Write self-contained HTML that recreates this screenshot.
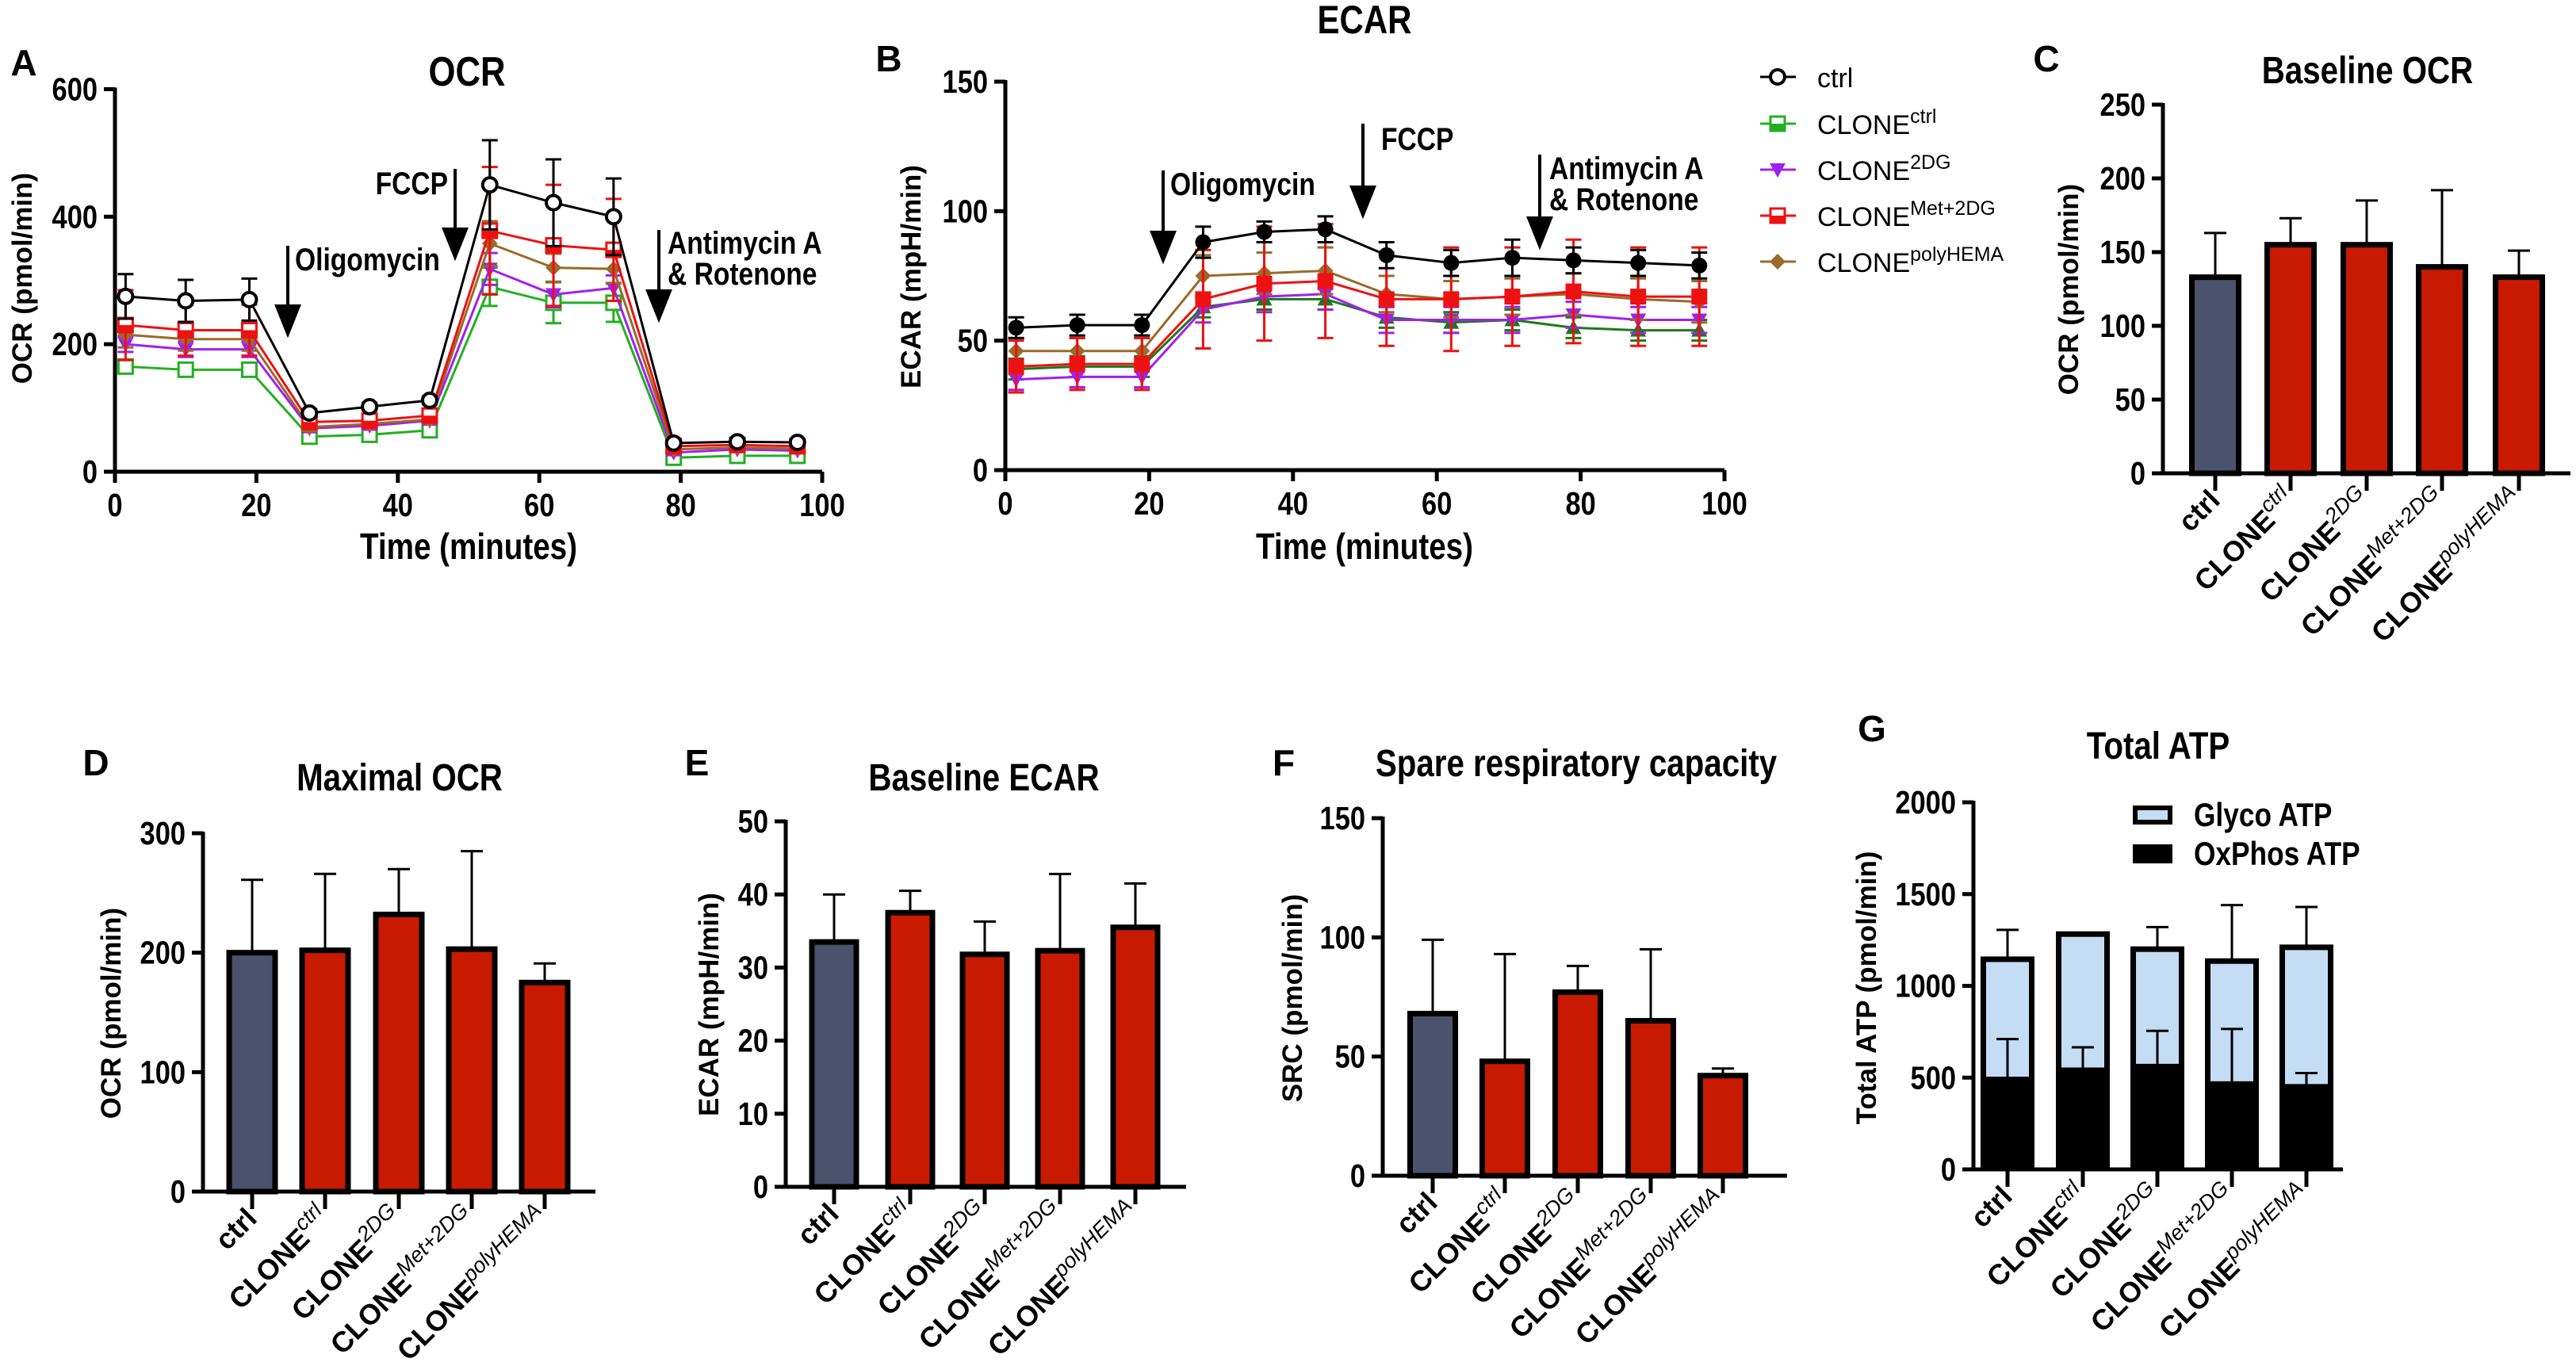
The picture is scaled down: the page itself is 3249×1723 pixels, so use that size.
<!DOCTYPE html>
<html><head><meta charset="utf-8">
<style>
html,body{margin:0;padding:0;background:#fff;}
svg{display:block;font-family:"Liberation Sans",Arial,sans-serif;}
</style></head>
<body>
<svg id="fig" width="3249" height="1723" viewBox="0 0 3249 1723" xmlns="http://www.w3.org/2000/svg"></svg>
<script>
// ---------- Panel A (OCR time course) ----------
const timePts = [1.5,10,19,27.5,36,44.5,53,62,70.5,79,88,96.5];
const ocrCtrl = [275,268,270,92,102,112,450,422,400,45,47,46];
const ocrCtrlErr = [35,33,33,6,6,6,70,68,60,5,5,5];
const ocrCloneCtrl = [165,160,160,55,58,65,290,265,265,22,25,25];
const ocrCloneCtrlErr = [10,10,10,6,6,6,30,32,30,4,4,4];
const ocr2DG = [200,192,192,68,72,80,318,278,288,30,35,33];
const ocr2DGErr = [12,12,12,6,6,6,25,20,20,4,4,4];
const ocrMet = [230,222,222,78,80,88,378,355,348,40,42,40];
const ocrMetErr = [55,40,40,8,8,8,100,95,80,5,5,5];
const ocrPoly = [215,208,208,70,75,82,358,320,318,35,38,36];
const ocrPolyErr = [20,18,18,6,6,6,35,22,22,4,4,4];
// ---------- Panel B (ECAR time course) ----------
const ecarCtrl = [55,56,56,88,92,93,83,80,82,81,80,79];
const ecarCtrlErr = [4,4,4,6,4,5,5,5,7,5,5,5];
const ecarCloneCtrl = [39,40,40,63,66,66,59,57,58,55,54,54];
const ecarCloneCtrlErr = [4,4,4,4,4,4,4,4,4,4,4,4];
const ecar2DG = [35,36,36,62,67,68,58,58,58,60,58,58];
const ecar2DGErr = [4,4,4,5,6,6,5,5,5,5,5,5];
const ecarMet = [40,41,41,66,72,73,66,66,67,69,67,67];
const ecarMetErr = [10,10,10,19,22,22,18,20,19,20,19,19];
const ecarPoly = [46,46,46,75,76,77,68,66,67,68,66,65];
const ecarPolyErr = [5,5,5,8,8,9,7,7,7,8,8,8];
// ---------- Bar panels ----------
const categories = ["ctrl","ctrl","2DG","Met+2DG","polyHEMA"];
const baseOCR = [133,155,155,140,133];
const baseOCRErr = [30,18,30,52,18];
const maxOCR = [200,202,232,203,175];
const maxOCRErr = [61,64,38,82,16];
const baseECAR = [33.5,37.5,31.8,32.3,35.5];
const baseECARErr = [6.5,3,4.5,10.5,6];
const srcVals = [68,48,77,65,42];
const srcErr = [31,45,11,30,3];
const oxphosATP = [490,540,560,465,450];
const oxphosErr = [220,125,195,300,75];
const totalATP = [1145,1282,1200,1135,1210];
const totalErr = [160,5,120,305,220];
const ticksA = [0,200,400,600];
const ticksB = [0,50,100,150];
const ticksX = [0,20,40,60,80,100];
const ticksC = [0,50,100,150,200,250];
const ticksD = [0,100,200,300];
const ticksE = [0,10,20,30,40,50];
const ticksF = [0,50,100,150];
const ticksG = [0,500,1000,1500,2000];

const NS = "http://www.w3.org/2000/svg";
const svg = document.getElementById("fig");
function mk(tag, attrs, parent){
  const e = document.createElementNS(NS, tag);
  for (const k in attrs) e.setAttribute(k, attrs[k]);
  (parent||svg).appendChild(e);
  return e;
}
function txt(x,y,s,size,opts,parent){
  opts = opts||{};
  const e = mk("text",{x:x,y:y,"font-size":size,"font-weight":opts.w||"bold","text-anchor":opts.a||"middle",fill:"#000"},parent);
  if(opts.n){ e.setAttribute("x",0); e.setAttribute("y",0); e.setAttribute("transform",`translate(${x},${y}) scale(0.84,1)`); }
  if(opts.tr) e.setAttribute("transform",opts.tr);
  e.textContent = s;
  return e;
}
function linY(v,vmax,y0,ytop){ return y0 - v/vmax*(y0-ytop); }

function yAxis(g, ax, y0, ytop, vmax, ticks, xEnd){
  const a = mk("line",{x1:ax,y1:y0,x2:ax,y2:ytop-2,stroke:"#000","stroke-width":5},g);
  
  
  const b = mk("line",{x1:ax-2,y1:y0,x2:xEnd,y2:y0,stroke:"#000","stroke-width":5},g);
  
  
  ticks.forEach(t=>{
    const y = linY(t,vmax,y0,ytop);
    const tk = mk("line",{x1:ax-14,y1:y,x2:ax,y2:y,stroke:"#000","stroke-width":5},g);
    
    
    const l = txt(ax-22,y+14,String(t),41,{a:"end",n:1},g);
    
    
  });
}

function marker(g, shape, x, y, color){
  let m;
  if(shape==="circleOpen") m = mk("circle",{cx:x,cy:y,r:9,fill:"#fff",stroke:color,"stroke-width":4},g);
  else if(shape==="circleFill") m = mk("circle",{cx:x,cy:y,r:10,fill:color},g);
  else if(shape==="squareOpen") m = mk("rect",{x:x-9,y:y-9,width:18,height:18,fill:"#fff",stroke:color,"stroke-width":3},g);
  else if(shape==="squareFill") m = mk("rect",{x:x-10,y:y-10,width:20,height:20,fill:color},g);
  else if(shape==="squareHalf"){ m = mk("g",{},g); mk("rect",{x:x-9,y:y-9,width:18,height:18,fill:"#fff",stroke:color,"stroke-width":3},m); mk("rect",{x:x-9,y:y,width:18,height:9,fill:color},m); }
  else if(shape==="triDown") m = mk("polygon",{points:`${x-10},${y-8} ${x+10},${y-8} ${x},${y+10}`,fill:color},g);
  else if(shape==="triUp") m = mk("polygon",{points:`${x-10},${y+8} ${x+10},${y+8} ${x},${y-10}`,fill:color},g);
  else if(shape==="diamond") m = mk("polygon",{points:`${x},${y-10} ${x+10},${y} ${x},${y+10} ${x-10},${y}`,fill:color},g);
  
  
}
function series(g, xs, vals, errs, color, shape, P){
  const sx = t => P.x0 + t/100*(P.x1-P.x0);
  const sy = v => linY(v,P.vmax,P.y0,P.ytop);
  vals.forEach((v,i)=>{
    const x = sx(xs[i]), y1 = sy(v+errs[i]), y2 = sy(v-errs[i]);
    const e = mk("path",{d:`M${x},${y1}V${y2}M${x-10},${y1}H${x+10}M${x-10},${y2}H${x+10}`,stroke:color,"stroke-width":3,fill:"none"},g);
    
    
  });
  const pl = mk("polyline",{points:vals.map((v,i)=>sx(xs[i])+","+sy(v)).join(" "),fill:"none",stroke:color,"stroke-width":3},g);
  
  
  vals.forEach((v,i)=>marker(g,shape,sx(xs[i]),sy(v),color));
}
function arrow(g,x,yTop,yTip){
  const a = mk("path",{d:`M${x},${yTop}V${yTip-30}M${x-14},${yTip-35}H${x+14}L${x},${yTip}Z`,stroke:"#000","stroke-width":4,fill:"#000"},g);
  
  
}
function xTicks(g,P){
  ticksX.forEach(t=>{
    const x = P.x0 + t/100*(P.x1-P.x0);
    const tk = mk("line",{x1:x,y1:P.y0,x2:x,y2:P.y0+14,stroke:"#000","stroke-width":5},g);
    
    
    const l = txt(x,P.y0+56,String(t),41,{n:1},g);
    
    
  });
}

// Panel A
const gA = mk("g",{});


const PA = {x0:145,x1:1037,y0:595,ytop:112.5,vmax:600};
yAxis(gA,145,595,112.5,600,ticksA,1037);
xTicks(gA,PA);
series(gA,timePts,ocrCloneCtrl,ocrCloneCtrlErr,"#22b022","squareOpen",PA);
series(gA,timePts,ocr2DG,ocr2DGErr,"#a020f0","triDown",PA);
series(gA,timePts,ocrPoly,ocrPolyErr,"#9a6a2a","diamond",PA);
series(gA,timePts,ocrMet,ocrMetErr,"#ee1111","squareHalf",PA);
series(gA,timePts,ocrCtrl,ocrCtrlErr,"#000","circleOpen",PA);
arrow(gA,363,310,421);
arrow(gA,574,213,324);
arrow(gA,831,290,402);
let t;
t = txt(372,341,"Oligomycin",40,{a:"start",n:1},gA);  
t = txt(565,245,"FCCP",40,{a:"end",n:1},gA);  
t = txt(842,320,"Antimycin A",40,{a:"start",n:1},gA);  
t = txt(842,359,"& Rotenone",40,{a:"start",n:1},gA);  
t = txt(589,108,"OCR",52,{n:1},gA);  
t = txt(591,705,"Time (minutes)",46,{n:1},gA);  
t = txt(0,0,"OCR (pmol/min)",35,{tr:"translate(40,351) rotate(-90)"},gA);  
t = txt(30,95,"A",46,{},gA);  

// Panel B
const gB = mk("g",{});


const PB = {x0:1268,x1:2175,y0:593,ytop:103,vmax:150};
yAxis(gB,1268,593,103,150,ticksB,2175);
xTicks(gB,PB);
series(gB,timePts,ecarCloneCtrl,ecarCloneCtrlErr,"#1a7a1a","triUp",PB);
series(gB,timePts,ecar2DG,ecar2DGErr,"#a020f0","triDown",PB);
series(gB,timePts,ecarPoly,ecarPolyErr,"#9a6a2a","diamond",PB);
series(gB,timePts,ecarMet,ecarMetErr,"#ee1111","squareFill",PB);
series(gB,timePts,ecarCtrl,ecarCtrlErr,"#000","circleFill",PB);
arrow(gB,1467,215,328);
arrow(gB,1719,156,271);
arrow(gB,1942,195,310);
t = txt(1476,246,"Oligomycin",40,{a:"start",n:1},gB);  
t = txt(1742,189,"FCCP",40,{a:"start",n:1},gB);  
t = txt(1954,226,"Antimycin A",40,{a:"start",n:1},gB);  
t = txt(1954,265,"& Rotenone",40,{a:"start",n:1},gB);  
t = txt(1721,42,"ECAR",50,{n:1},gB);  
t = txt(1721,705,"Time (minutes)",46,{n:1},gB);  
t = txt(0,0,"ECAR (mpH/min)",35,{tr:"translate(1161,349) rotate(-90)"},gB);  
t = txt(1121,90,"B",46,{},gB);  

// Legend (A/B)
const legNames = ["ctrl","CLONE","CLONE","CLONE","CLONE"];
const legSup = ["","ctrl","2DG","Met+2DG","polyHEMA"];
const legCol = ["#000","#22b022","#a020f0","#ee1111","#9a6a2a"];
const legShape = ["circleOpen","squareHalf","triDown","squareHalf","diamond"];
const legY = [97,156,214,272,330];
const gL = mk("g",{});


legNames.forEach((n,i)=>{
  const y = legY[i];
  const ent = mk("g",{},gL);
  
  
  mk("line",{x1:2220,y1:y,x2:2265,y2:y,stroke:legCol[i],"stroke-width":3},ent);
  marker(ent,legShape[i],2242,y,legCol[i]);
  const tx = mk("text",{x:0,y:0,"font-size":34,fill:"#000",transform:`translate(2292,${y+13}) scale(1.0,1)`},ent);
  
  
  tx.appendChild(document.createTextNode(n));
  if(legSup[i]){
    const sp = mk("tspan",{"font-size":25,dy:-14},tx);
    sp.textContent = legSup[i];
  }
});

// ---------- Bar panels ----------
function catLabel(g,x,y,i){
  const tx = mk("text",{x:0,y:0,"font-size":36,"font-weight":"bold","text-anchor":"end",fill:"#000",transform:`translate(${x+8},${y+36}) rotate(-45)`},g);
  
  
  if(i===0){ tx.textContent = "ctrl"; return; }
  tx.appendChild(document.createTextNode("CLONE"));
  const sp = mk("tspan",{"font-size":27,"font-weight":"normal","font-style":"italic",dy:-15},tx);
  sp.textContent = categories[i];
}
function barPanel(name,P,vals,errs,ticks){
  const g = mk("g",{});
  
  
  yAxis(g,P.ax,P.y0,P.ytop,P.vmax,ticks,P.xEnd);
  vals.forEach((v,i)=>{
    const cx = P.cx[i], y = linY(v,P.vmax,P.y0,P.ytop), ye = linY(v+errs[i],P.vmax,P.y0,P.ytop);
    const e = mk("path",{d:`M${cx},${y}V${ye}M${cx-14},${ye}H${cx+14}`,stroke:"#000","stroke-width":3,fill:"none"},g);
    
    
    const r = mk("rect",{x:cx-P.bw/2,y:y,width:P.bw,height:P.y0-y,fill:i===0?"#4a526c":"#c81a00",stroke:"#000","stroke-width":7},g);
    
    
    const tk = mk("line",{x1:cx,y1:P.y0,x2:cx,y2:P.y0+22,stroke:"#000","stroke-width":5},g);
    
    
    catLabel(g,cx,P.y0,i);
  });
  return g;
}
const gC = barPanel("panel-c-baseline-ocr",{ax:2728,xEnd:3242,y0:597,ytop:132,vmax:250,cx:[2794,2889,2985,3080,3177],bw:59},baseOCR,baseOCRErr,ticksC);
t = txt(2986,105,"Baseline OCR",48,{n:1},gC);  
t = txt(0,0,"OCR  (pmol/min)",35,{tr:"translate(2621,365) rotate(-90)"},gC);  
t = txt(2581,90,"C",46,{},gC);  

const gD = barPanel("panel-d-maximal-ocr",{ax:256,xEnd:751,y0:1503,ytop:1051,vmax:300,cx:[318,410,503,595,687],bw:58},maxOCR,maxOCRErr,ticksD);
t = txt(504,997,"Maximal OCR",48,{n:1},gD);  
t = txt(0,0,"OCR (pmol/min)",35,{tr:"translate(152,1278) rotate(-90)"},gD);  
t = txt(121,978,"D",46,{},gD);  

const gE = barPanel("panel-e-baseline-ecar",{ax:991,xEnd:1496,y0:1497,ytop:1036,vmax:50,cx:[1052,1148,1242,1337,1432],bw:56},baseECAR,baseECARErr,ticksE);
t = txt(1241,997,"Baseline ECAR",48,{n:1},gE);  
t = txt(0,0,"ECAR (mpH/min)",35,{tr:"translate(906,1267) rotate(-90)"},gE);  
t = txt(879,978,"E",46,{},gE);  

const gF = barPanel("panel-f-spare-respiratory-capacity",{ax:1744,xEnd:2254,y0:1483,ytop:1032,vmax:150,cx:[1807,1898,1990,2082,2173],bw:57},srcVals,srcErr,ticksF);
t = txt(1988,979,"Spare respiratory capacity",48,{n:1},gF);  
t = txt(0,0,"SRC  (pmol/min)",35,{tr:"translate(1642,1259) rotate(-90)"},gF);  
t = txt(1619,978,"F",46,{},gF);  

// Panel G stacked
const gG = mk("g",{});


const PG = {ax:2489,xEnd:2955,y0:1475,ytop:1012,vmax:2000,cx:[2532,2627,2721,2815,2909],bw:61};
yAxis(gG,PG.ax,PG.y0,PG.ytop,PG.vmax,ticksG,PG.xEnd);
totalATP.forEach((tot,i)=>{
  const cx = PG.cx[i], sy = v=>linY(v,PG.vmax,PG.y0,PG.ytop);
  const et = mk("path",{d:`M${cx},${sy(tot)}V${sy(tot+totalErr[i])}M${cx-14},${sy(tot+totalErr[i])}H${cx+14}`,stroke:"#000","stroke-width":3,fill:"none"},gG);
  
  
  const rg = mk("rect",{x:cx-PG.bw/2,y:sy(tot),width:PG.bw,height:sy(oxphosATP[i])-sy(tot),fill:"#c5dcf5",stroke:"#000","stroke-width":7},gG);
  
  
  const ro = mk("rect",{x:cx-PG.bw/2-3.5,y:sy(oxphosATP[i]),width:PG.bw+7,height:PG.y0-sy(oxphosATP[i]),fill:"#000"},gG);
  
  
  const ye = sy(oxphosATP[i]+oxphosErr[i]);
  const eo = mk("path",{d:`M${cx},${sy(oxphosATP[i])}V${ye}M${cx-14},${ye}H${cx+14}`,stroke:"#000","stroke-width":3,fill:"none"},gG);
  
  
  const tk = mk("line",{x1:cx,y1:PG.y0,x2:cx,y2:PG.y0+22,stroke:"#000","stroke-width":5},gG);
  
  
  catLabel(gG,cx,PG.y0,i);
});
const lg1 = mk("rect",{x:2693,y:1019,width:44,height:18,fill:"#c5dcf5",stroke:"#000","stroke-width":6},gG);


const lg2 = mk("rect",{x:2690,y:1065,width:50,height:24,fill:"#000"},gG);


t = txt(2767,1042,"Glyco ATP",42,{a:"start",n:1},gG);  
t = txt(2767,1091,"OxPhos ATP",42,{a:"start",n:1},gG);  
t = txt(2722,957,"Total ATP",48,{n:1},gG);  
t = txt(0,0,"Total ATP (pmol/min)",35,{tr:"translate(2366,1246) rotate(-90)"},gG);  
t = txt(2361,935,"G",46,{},gG);  
</script>
</body></html>
